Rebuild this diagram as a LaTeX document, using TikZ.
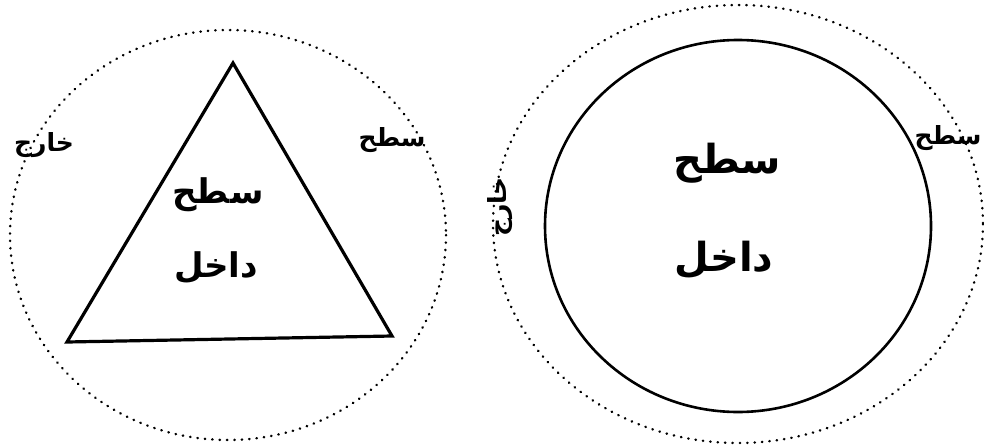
\documentclass[tikz,border=0pt]{standalone}
\usepackage{fontspec}
\newfontfamily\arabicfont[Script=Arabic]{DejaVu Sans}
\TeXXeTstate=1
\tikzset{
  outer/.style={line width=2.5pt, dash pattern=on 0.4pt off 7pt, line cap=round},
  solidline/.style={line width=3.2pt, line join=miter},
  lbl/.style={font=\arabicfont\bfseries\fontsize{25}{27}\selectfont, inner sep=0pt},
  inlbl/.style={font=\arabicfont\bfseries\fontsize{34}{36}\selectfont, inner sep=0pt},
  biglbl/.style={font=\arabicfont\bfseries\fontsize{40}{42}\selectfont, inner sep=0pt}
}
\begin{document}
\begin{tikzpicture}[x=1pt,y=-1pt]
\useasboundingbox (0,0) rectangle (984,444);
% left figure
\draw[outer] (228,235) ellipse [x radius=218, y radius=205];
\coordinate (A) at (233,63);
\coordinate (B) at (67,342);
\coordinate (C) at (392,336);
\draw[solidline] (A) -- (B) -- (C) -- cycle;
\node[inlbl] (s1) at (218,195) {\beginR سطح\endR};
\node[inlbl] (d1) at (216,268) {\beginR داخل\endR};
\node[lbl] (k1) at (44,145) {\beginR خارج\endR};
\node[lbl] (s2) at (392,140) {\beginR سطح\endR};
% right figure
\draw[outer] (738,224) ellipse [x radius=245, y radius=219];
\draw[line width=2.6pt] (738,226) ellipse [x radius=193, y radius=186];
\node[biglbl] (s3) at (727,163) {\beginR سطح\endR};
\node[biglbl] (d3) at (724,260) {\beginR داخل\endR};
\node[lbl] (s4) at (948,138) {\beginR سطح\endR};
\node[lbl, rotate=90] (k2) at (500,207) {\beginR خارج\endR};
\end{tikzpicture}
\end{document}
